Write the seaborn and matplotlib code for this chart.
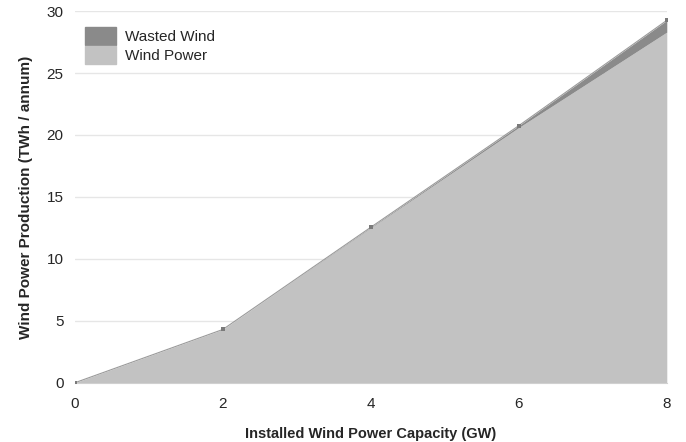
import matplotlib.pyplot as plt
import seaborn as sns
import numpy as np
import pandas as pd

# values
capacity = [0, 2, 4, 6, 8]
wind_power = [0, 4.3, 12.5, 20.6, 28.3]
wasted_wind = [0, 0.0, 0.05, 0.15, 0.95]

df = pd.DataFrame({'capacity': capacity, 'Wind Power': wind_power, 'Wasted Wind': wasted_wind})
df['total'] = df['Wind Power'] + df['Wasted Wind']

sns.set_style('white')
plt.rcParams['font.family'] = ['Liberation Sans', 'DejaVu Sans']

fig = plt.figure(figsize=(6.86, 4.42), dpi=100)
ax = fig.add_axes([0.109, 0.134, 0.863, 0.841])

light = '#c2c2c2'
dark = '#8a8a8a'

ax.fill_between(df['capacity'], 0, df['Wind Power'], color=light, lw=0, zorder=2)
ax.fill_between(df['capacity'], df['Wind Power'], df['total'], color=dark, lw=0, zorder=2)
sns.lineplot(data=df, x='capacity', y='total', color='#9a9a9a', lw=0.8, ax=ax, zorder=3,
             marker='s', markersize=3.5, markeredgewidth=0, markerfacecolor='#7a7a7a')

# legend patches
ax.fill_between([], [], color=dark, label='Wasted Wind')
ax.fill_between([], [], color=light, label='Wind Power')
leg = ax.legend(loc='upper left', bbox_to_anchor=(0.0, 0.985), frameon=False,
                fontsize=11, handlelength=2.0, handleheight=1.4, labelspacing=0.1,
                handletextpad=0.6, borderaxespad=0.3)

ax.set_xlim(0, 8)
ax.set_ylim(0, 30)
ax.set_xticks([0, 2, 4, 6, 8])
ax.set_yticks([0, 5, 10, 15, 20, 25, 30])
ax.yaxis.grid(True, color='#e6e6e6', lw=1, zorder=0)
ax.set_axisbelow(True)
for s in ['top', 'right', 'left']:
    ax.spines[s].set_visible(False)
ax.spines['bottom'].set_color('#d0d0d0')
ax.tick_params(axis='x', length=4, color='#d0d0d0', labelsize=11, pad=6)
ax.tick_params(axis='y', length=6, color='#e6e6e6', labelsize=11, pad=2)

ax.set_xlabel('Installed Wind Power Capacity (GW)', fontsize=10.5, fontweight='bold', labelpad=12)
ax.set_ylabel('Wind Power Production (TWh / annum)', fontsize=11, fontweight='bold', labelpad=10)

fig.savefig('out.png', dpi=100)
